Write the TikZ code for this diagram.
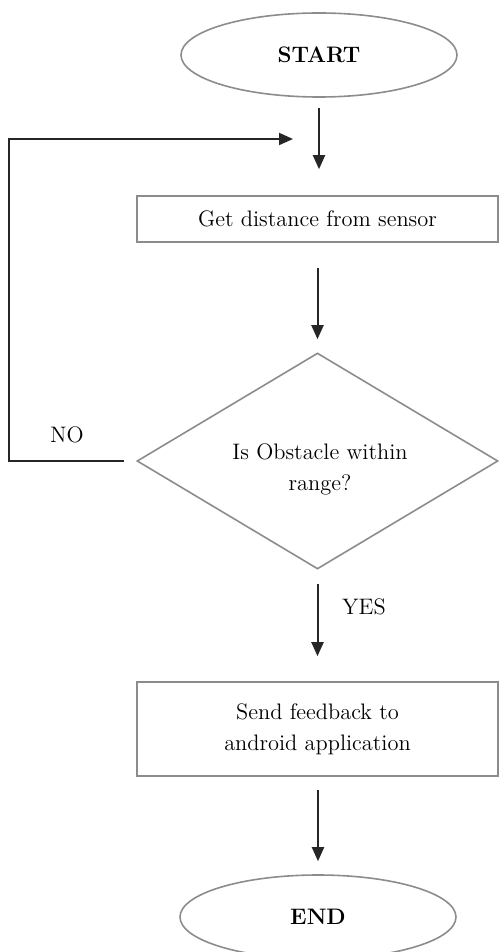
\documentclass[tikz,border=0pt]{standalone}
\usetikzlibrary{shapes.geometric,arrows.meta}
\begin{document}
\begin{tikzpicture}[x=0.5pt,y=-0.5pt,
  every node/.style={font=\fontsize{11.2}{15.5}\selectfont},
  shapeline/.style={draw=black!45, line width=0.8pt, inner sep=0pt},
  term/.style={shapeline, ellipse, minimum width=138pt, minimum height=42pt},
  procbox/.style={shapeline, rectangle, minimum width=180.5pt, align=center},
  decision/.style={shapeline, diamond, minimum width=180.5pt, minimum height=108pt},
  arr/.style={draw=black!85, line width=1pt, -{Stealth[length=7pt,width=6pt,inset=0pt]}},
  lbl/.style={inner sep=0pt, align=center}]
\useasboundingbox (0,0) rectangle (499,952);
\node[term] (start) at (319,55) {\textbf{START}};
\node[procbox, minimum height=23pt] (get) at (317.5,219) {Get distance from sensor};
\node[decision] (dec) at (317.5,461) {};
\node[lbl] (dectext) at (320,469) {Is Obstacle within\\range?};
\node[procbox, minimum height=47pt] (send) at (317.5,729) {Send feedback to\\android application};
\node[term] (end) at (318,917) {\textbf{END}};
\coordinate (c1) at (9,461);
\coordinate (c2) at (9,139);
\coordinate (le) at (293,139);
\draw[arr, shorten <=5pt, shorten >=13pt] (start.south) -- (get.north -| start.south);
\draw[arr, shorten <=12.5pt, shorten >=6.5pt] (get.south -| dec.north) -- (dec.north);
\draw[arr, shorten <=7pt, shorten >=12.5pt] (dec.south) -- (send.north -| dec.south);
\draw[arr, shorten <=6.5pt, shorten >=6.5pt] (send.south -| end.north) -- (end.north);
\draw[arr, shorten <=6pt] (dec.west) -- (c1) -- (c2) -- (le);
\node[lbl] (no) at (67,435) {NO};
\node[lbl] (yes) at (364,607) {YES};
\end{tikzpicture}
\end{document}
